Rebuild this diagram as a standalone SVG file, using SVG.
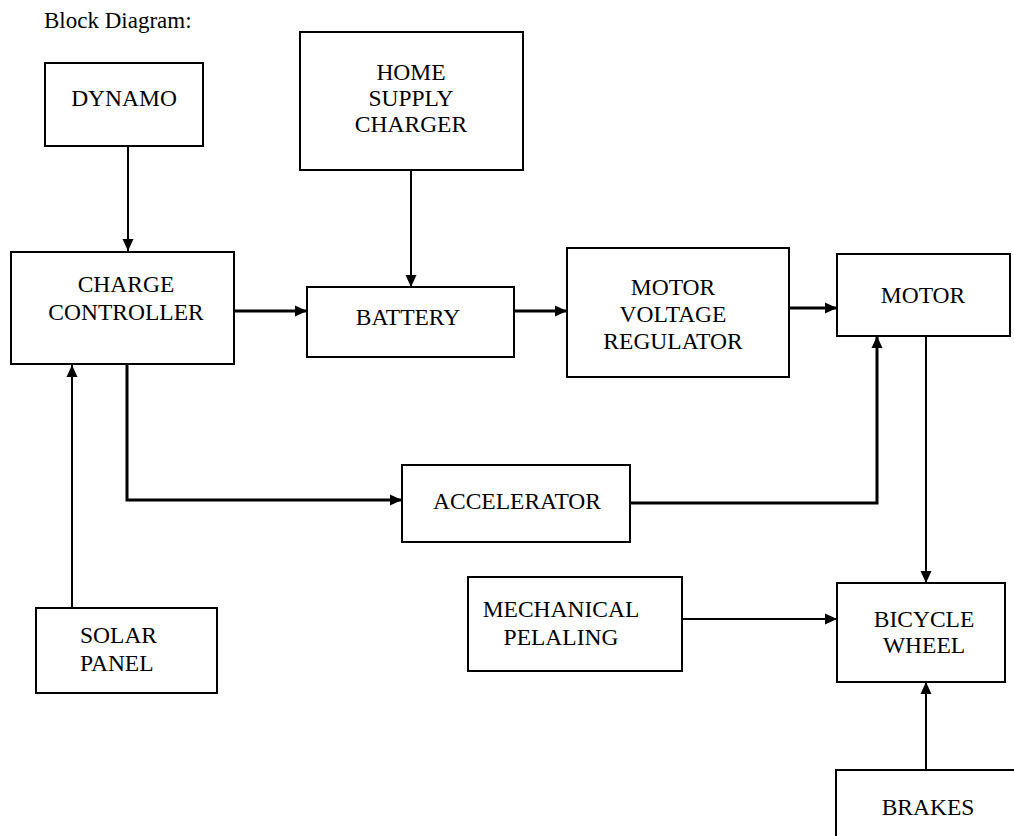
<svg xmlns="http://www.w3.org/2000/svg" width="1014" height="836" viewBox="0 0 1014 836">
<style>
  .box { fill: #ffffff; stroke: #000000; stroke-width: 2; }
  .lbl { font-family: "Liberation Serif", "Times New Roman", serif; font-size: 23.5px; fill: #000000; text-anchor: middle; }
  .title { font-family: "Liberation Serif", "Times New Roman", serif; font-size: 23px; fill: #000000; }
  .c { fill: none; stroke: #000000; stroke-width: 2; marker-end: url(#arr); }
  .thick { stroke-width: 3; }
</style>
<defs>
  <marker id="arr" viewBox="0 0 12 12" refX="12" refY="6" markerWidth="12" markerHeight="12" markerUnits="userSpaceOnUse" orient="auto">
    <path d="M0,0.5 L12,6 L0,11.5 z" fill="#000000"/>
  </marker>
</defs>
<rect x="0" y="0" width="1014" height="836" fill="#ffffff"/>
<text class="title" x="44" y="28">Block Diagram:</text>

<g id="connectors">
  <path class="c" d="M128,147 V251"/>
  <path class="c" d="M411,170 V287"/>
  <path class="c thick" d="M234,311 H307"/>
  <path class="c thick" d="M514,311 H567"/>
  <path class="c thick" d="M789,308 H837"/>
  <path class="c thick" d="M127,365 V500 H402"/>
  <path class="c thick" d="M630,503 H877 V336"/>
  <path class="c" d="M926,336 V583"/>
  <path class="c" d="M72,608 V365"/>
  <path class="c" d="M682,619 H837"/>
  <path class="c" d="M926,770 V682"/>
</g>

<g id="dynamo">
  <rect class="box" x="45" y="63" width="158" height="83"/>
  <text class="lbl" x="124" y="106">DYNAMO</text>
</g>
<g id="home-supply-charger">
  <rect class="box" x="300" y="32" width="223" height="138"/>
  <text class="lbl" x="411" y="80">HOME</text>
  <text class="lbl" x="411" y="106">SUPPLY</text>
  <text class="lbl" x="411" y="132">CHARGER</text>
</g>
<g id="charge-controller">
  <rect class="box" x="11" y="252" width="223" height="112"/>
  <text class="lbl" x="126" y="292">CHARGE</text>
  <text class="lbl" x="126" y="320">CONTROLLER</text>
</g>
<g id="battery">
  <rect class="box" x="307" y="287" width="207" height="70"/>
  <text class="lbl" x="408" y="325">BATTERY</text>
</g>
<g id="motor-voltage-regulator">
  <rect class="box" x="567" y="248" width="222" height="129"/>
  <text class="lbl" x="673" y="295">MOTOR</text>
  <text class="lbl" x="673" y="322">VOLTAGE</text>
  <text class="lbl" x="673" y="349">REGULATOR</text>
</g>
<g id="motor">
  <rect class="box" x="837" y="254" width="173" height="82"/>
  <text class="lbl" x="923" y="303">MOTOR</text>
</g>
<g id="accelerator">
  <rect class="box" x="402" y="465" width="228" height="77"/>
  <text class="lbl" x="517" y="509">ACCELERATOR</text>
</g>
<g id="solar-panel">
  <rect class="box" x="36" y="608" width="181" height="85"/>
  <text class="lbl" x="80" y="643" style="text-anchor:start">SOLAR</text>
  <text class="lbl" x="80" y="671" style="text-anchor:start">PANEL</text>
</g>
<g id="mechanical-pelaling">
  <rect class="box" x="468" y="577" width="214" height="94"/>
  <text class="lbl" x="561" y="617">MECHANICAL</text>
  <text class="lbl" x="561" y="645">PELALING</text>
</g>
<g id="bicycle-wheel">
  <rect class="box" x="837" y="583" width="168" height="99"/>
  <text class="lbl" x="924" y="627">BICYCLE</text>
  <text class="lbl" x="924" y="653">WHEEL</text>
</g>
<g id="brakes">
  <rect class="box" x="836" y="770" width="190" height="90"/>
  <text class="lbl" x="928" y="815">BRAKES</text>
</g>
</svg>
